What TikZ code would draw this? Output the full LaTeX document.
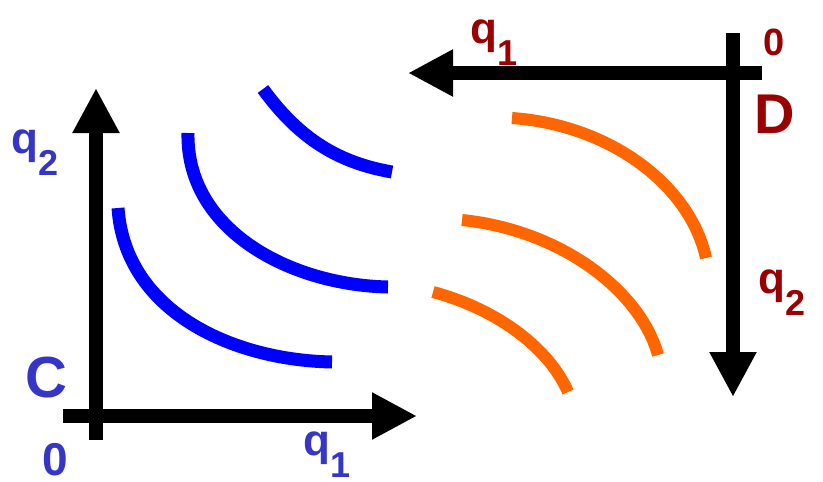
\documentclass[tikz,border=0pt]{standalone}
\usepackage{fontspec}
\setmainfont{Liberation Sans}
\usetikzlibrary{arrows.meta}

\definecolor{labblue}{HTML}{3535C8}
\definecolor{labred}{HTML}{990000}
\definecolor{curveblue}{HTML}{0000FF}
\definecolor{curveorange}{HTML}{FF6600}

% q with a lowered index
\newcommand{\qidx}[1]{q\raisebox{-0.5em}{\fontsize{36}{40}\selectfont #1}}

\begin{document}
\begin{tikzpicture}[x=1pt, y=-1pt,
  axis/.style={line width=14pt, -{Triangle[length=45pt,width=44pt]}},
  icurve/.style={line width=13pt, curveblue},
  ocurve/.style={line width=12pt, curveorange},
  lab/.style={anchor=base west, inner sep=0pt, font=\bfseries\fontsize{44}{50}\selectfont}]
\useasboundingbox (0,0) rectangle (823,482);

% axes of C
\coordinate (cbot) at (96,440);
\coordinate (ctop) at (96,88);
\coordinate (cleft) at (63,416);
\coordinate (cright) at (417,416);
\draw[axis] (cbot) -- (ctop);
\draw[axis] (cleft) -- (cright);

% axes of D
\coordinate (dtop) at (733,33);
\coordinate (dbot) at (733,397);
\coordinate (dright) at (762,73);
\coordinate (dleft) at (408,73);
\draw[axis] (dtop) -- (dbot);
\draw[axis] (dright) -- (dleft);

% curves of C
\draw[icurve] (263,89) .. controls (300,140) and (340,163) .. (392,172);
\draw[icurve] (188,133) .. controls (186,230) and (290,285) .. (388,287);
\draw[icurve] (118,208) .. controls (125,310) and (230,360) .. (332,362);

% curves of D
\draw[ocurve] (512,118) .. controls (610,125) and (690,185) .. (706,258);
\draw[ocurve] (462,220) .. controls (560,230) and (640,290) .. (658,355);
\draw[ocurve] (433,292) .. controls (500,310) and (550,350) .. (568,392);

% labels
\node[lab, labblue] (cq2) at (11,153) {\qidx{2}};
\node[lab, labblue, font=\bfseries\fontsize{58}{60}\selectfont] (cname) at (25,397) {C};
\node[lab, labblue, font=\bfseries\fontsize{46}{50}\selectfont] (corig) at (42,475) {0};
\node[lab, labblue] (cq1) at (303,455) {\qidx{1}};
\node[lab, labred] (dq1) at (470,43) {\qidx{1}};
\node[lab, labred, font=\bfseries\fontsize{38}{40}\selectfont] (dorig) at (763,55) {0};
\node[lab, labred, font=\bfseries\fontsize{56}{60}\selectfont] (dname) at (754,133) {D};
\node[lab, labred] (dq2) at (758,293) {\qidx{2}};
\end{tikzpicture}
\end{document}
